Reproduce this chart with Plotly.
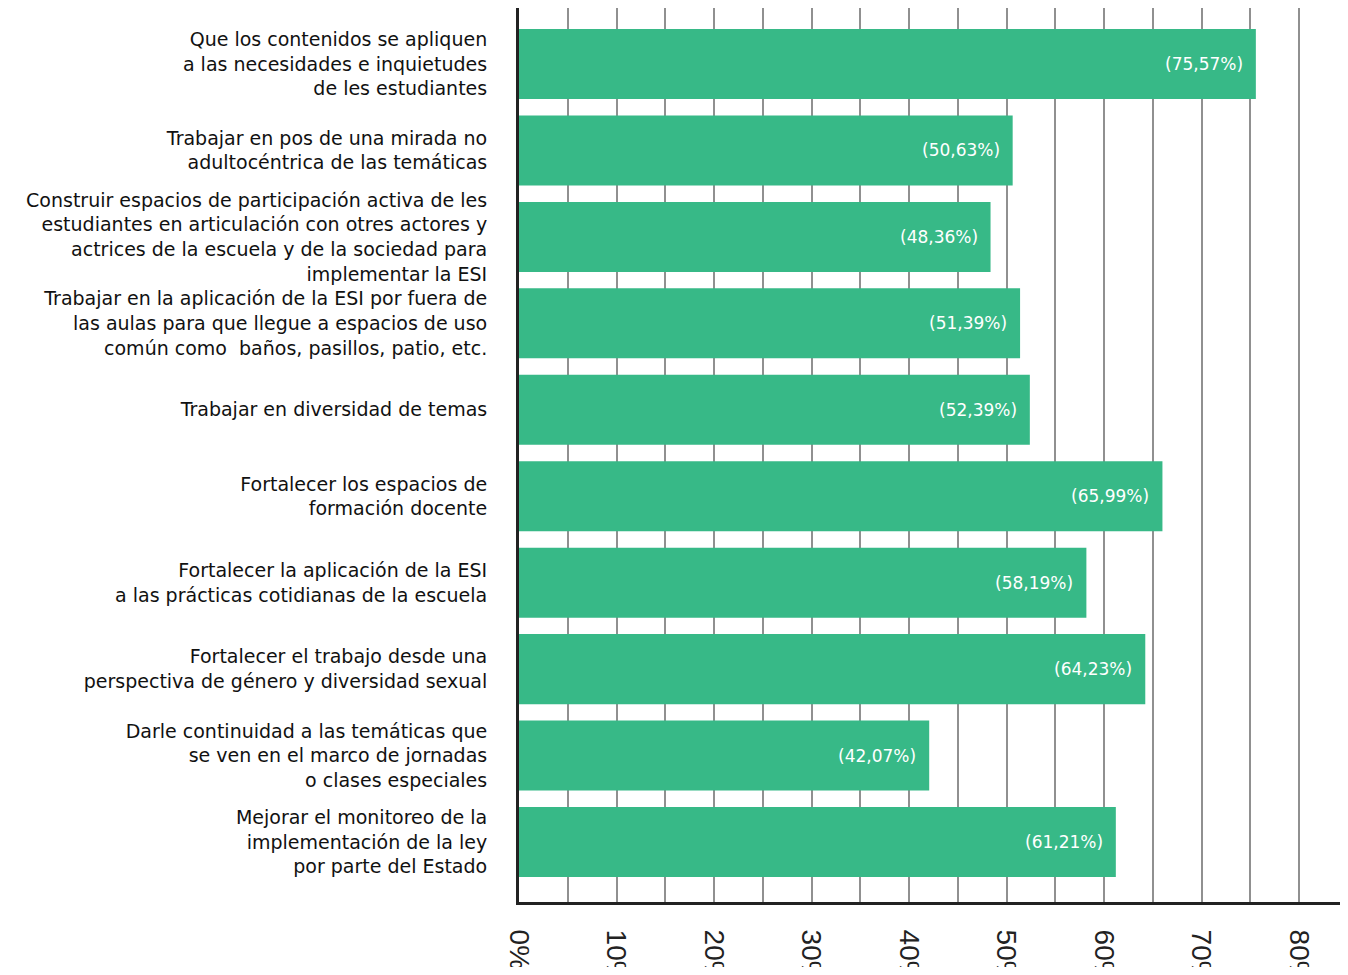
import plotly.graph_objects as go

categories = [
    "Que los contenidos se apliquen<br>a las necesidades e inquietudes<br>de les estudiantes",
    "Trabajar en pos de una mirada no<br>adultocéntrica de las temáticas",
    "Construir espacios de participación activa de les<br>estudiantes en articulación con otres actores y<br>actrices de la escuela y de la sociedad para<br>implementar la ESI",
    "Trabajar en la aplicación de la ESI por fuera de<br>las aulas para que llegue a espacios de uso<br>común como  baños, pasillos, patio, etc.",
    "Trabajar en diversidad de temas",
    "Fortalecer los espacios de<br>formación docente",
    "Fortalecer la aplicación de la ESI<br>a las prácticas cotidianas de la escuela",
    "Fortalecer el trabajo desde una<br>perspectiva de género y diversidad sexual",
    "Darle continuidad a las temáticas que<br>se ven en el marco de jornadas<br>o clases especiales",
    "Mejorar el monitoreo de la<br>implementación de la ley<br>por parte del Estado",
]
values = [75.57, 50.63, 48.36, 51.39, 52.39, 65.99, 58.19, 64.23, 42.07, 61.21]
value_labels = ["(75,57%)", "(50,63%)", "(48,36%)", "(51,39%)", "(52,39%)",
                "(65,99%)", "(58,19%)", "(64,23%)", "(42,07%)", "(61,21%)"]
tick_vals = [0, 10, 20, 30, 40, 50, 60, 70, 80]
tick_text = ["0%", "10%", "20%", "30%", "40%", "50%", "60%", "70%", "80%"]

GREEN = "#37b987"
LABEL_FONT = dict(family="DejaVu Sans", size=19, color="#111111")

fig = go.Figure()
fig.add_trace(go.Bar(
    x=values, y=list(range(len(categories))), orientation="h",
    marker=dict(color=GREEN, line=dict(width=0)),
    hoverinfo="skip",
))

for i, (v, t) in enumerate(zip(values, value_labels)):
    fig.add_annotation(
        x=v, y=i, text=t, showarrow=False, xanchor="right", xshift=-11,
        font=dict(family="DejaVu Sans", size=17, color="white"),
    )

fig.update_layout(
    width=1332, height=959,
    margin=dict(l=511, r=0, t=0, b=65),
    paper_bgcolor="white", plot_bgcolor="white",
    bargap=0.19,
    showlegend=False,
    font=LABEL_FONT,
)
fig.update_xaxes(
    range=[0, 84.2],
    tickmode="array", tickvals=tick_vals, ticktext=tick_text,
    showgrid=True, gridcolor="#909090", gridwidth=1.5,
    showline=True, linecolor="#222222", linewidth=3,
    tickangle=90, ticks="", ticklabelstandoff=19,
    tickfont=dict(family="Liberation Sans", size=28, color="#222222"),
    automargin=False, zeroline=False,
    minor=dict(showgrid=True, gridcolor="#909090", gridwidth=1.5, dtick=5, tick0=0),
)
fig.update_yaxes(
    range=[9.694, -0.648],
    tickmode="array", tickvals=list(range(len(categories))), ticktext=categories,
    showgrid=False,
    showline=True, linecolor="#222222", linewidth=3,
    ticks="", ticklabelstandoff=25, automargin=False,
    tickfont=LABEL_FONT, zeroline=False,
)

fig.write_html("out.html")
